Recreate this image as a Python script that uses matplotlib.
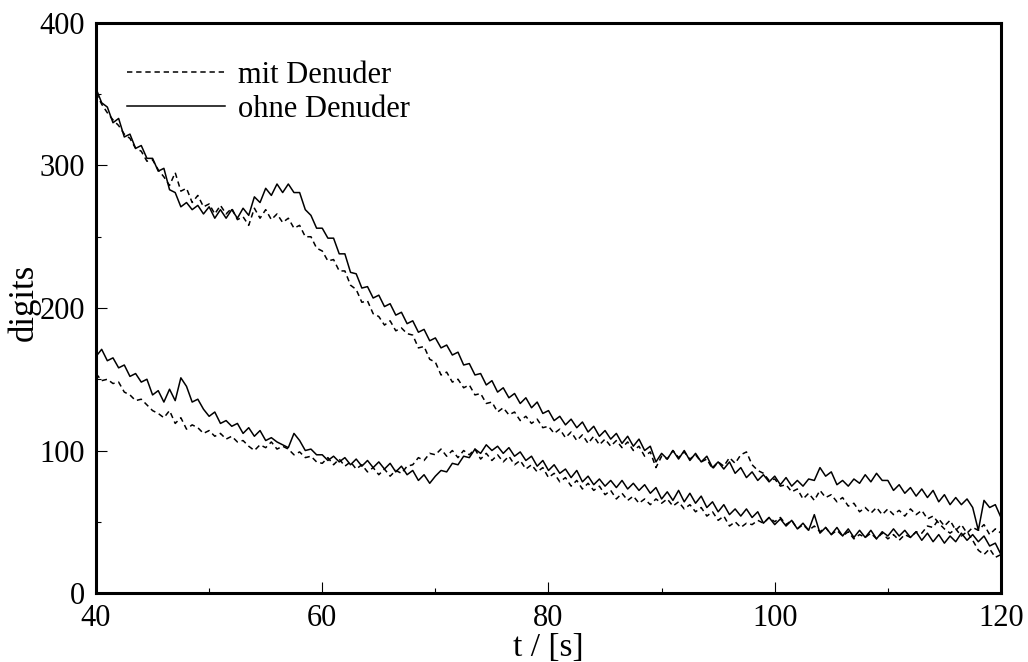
import numpy as np
import matplotlib
matplotlib.use('Agg')
import matplotlib.pyplot as plt
from matplotlib.ticker import MultipleLocator

# Zeitachse: Messwerte alle 0,5 s von 40 bis 120 s
t = np.arange(40, 120.25, 0.5)

# obere Kurve ohne Denuder (digits)
ohne_1 = [
    354, 344, 341, 330, 333, 320, 322, 312, 314, 305,
    305, 296, 298, 283, 281, 271, 274, 269, 272, 266,
    271, 263, 269, 263, 269, 263, 270, 265, 278, 274,
    284, 279, 287, 281, 287, 281, 281, 269, 265, 256,
    256, 249, 249, 238, 238, 225, 224, 214, 215, 207,
    209, 201, 203, 195, 197, 189, 191, 183, 185, 177,
    179, 172, 174, 167, 169, 160, 161, 153, 154, 146,
    149, 141, 144, 137, 140, 133, 137, 130, 134, 126,
    128, 121, 124, 118, 122, 116, 120, 113, 117, 110,
    114, 108, 112, 105, 110, 103, 108, 100, 103, 92,
    98, 94, 100, 94, 100, 93, 98, 92, 96, 88,
    92, 87, 92, 84, 88, 81, 85, 79, 83, 78,
    82, 76, 81, 75, 79, 75, 80, 79, 88, 82,
    85, 76, 79, 75, 80, 77, 83, 78, 84, 79,
    79, 72, 76, 70, 74, 68, 73, 67, 72, 64,
    69, 62, 67, 62, 66, 60, 44, 65, 60, 62,
    53,
]

# obere Kurve mit Denuder
mit_1 = [
    351, 343, 337, 332, 328, 322, 319, 312, 310, 303,
    304, 297, 292, 286, 295, 282, 284, 274, 279, 271,
    273, 266, 272, 266, 270, 262, 264, 258, 270, 263,
    269, 262, 266, 260, 263, 256, 258, 250, 250, 242,
    240, 233, 234, 226, 226, 216, 213, 204, 205, 196,
    194, 188, 191, 184, 186, 182, 181, 172, 173, 164,
    162, 153, 155, 148, 150, 144, 146, 139, 140, 133,
    134, 127, 130, 125, 127, 121, 124, 119, 122, 116,
    117, 112, 115, 109, 113, 107, 111, 105, 110, 104,
    108, 103, 107, 102, 106, 100, 103, 96, 99, 88,
    96, 94, 100, 95, 99, 94, 97, 92, 94, 87,
    92, 89, 95, 91, 97, 99, 90, 86, 84, 79,
    80, 75, 76, 71, 73, 66, 70, 65, 72, 67,
    69, 64, 67, 61, 63, 57, 60, 56, 60, 55,
    59, 55, 58, 54, 59, 55, 58, 52, 54, 49,
    45, 42, 45, 40, 43, 37, 30, 27, 31, 25,
    27,
]

# untere Kurve ohne Denuder
ohne_2 = [
    166, 171, 163, 165, 158, 160, 152, 154, 148, 150,
    139, 142, 134, 143, 135, 151, 145, 134, 136, 129,
    124, 127, 119, 121, 117, 119, 112, 116, 110, 114,
    107, 109, 106, 104, 102, 112, 107, 100, 101, 97,
    97, 93, 96, 92, 95, 90, 94, 89, 93, 88,
    92, 87, 91, 85, 89, 83, 86, 79, 83, 77,
    82, 86, 85, 91, 90, 96, 95, 101, 98, 104,
    100, 103, 98, 102, 96, 99, 93, 96, 89, 93,
    86, 90, 84, 87, 81, 86, 78, 82, 76, 80,
    75, 79, 74, 79, 73, 77, 72, 76, 70, 74,
    66, 71, 65, 72, 64, 70, 63, 68, 60, 64,
    57, 62, 55, 59, 54, 59, 53, 57, 49, 53,
    48, 52, 47, 51, 45, 49, 44, 55, 42, 46,
    41, 46, 40, 45, 39, 44, 39, 44, 38, 43,
    40, 45, 40, 44, 39, 43, 37, 42, 36, 41,
    35, 40, 36, 42, 37, 41, 36, 40, 33, 35,
    27,
]

# untere Kurve mit Denuder
mit_2 = [
    154, 149, 150, 147, 148, 141, 139, 135, 136, 132,
    128, 126, 123, 128, 119, 123, 115, 118, 116, 112,
    114, 110, 112, 108, 110, 106, 107, 103, 100, 104,
    102, 106, 101, 103, 101, 97, 99, 95, 96, 92,
    91, 95, 90, 94, 89, 92, 87, 90, 85, 88,
    83, 87, 82, 86, 84, 89, 90, 95, 93, 98,
    97, 101, 96, 100, 95, 100, 97, 101, 94, 98,
    93, 97, 92, 96, 90, 93, 87, 90, 85, 88,
    81, 84, 78, 81, 75, 79, 73, 77, 72, 75,
    69, 72, 66, 70, 65, 68, 63, 66, 62, 66,
    63, 66, 61, 64, 59, 62, 57, 60, 54, 57,
    51, 54, 47, 50, 46, 49, 48, 51, 49, 53,
    50, 53, 48, 51, 45, 48, 44, 47, 43, 46,
    41, 44, 40, 43, 38, 41, 39, 42, 38, 42,
    38, 41, 37, 41, 39, 43, 42, 47, 46, 52,
    47, 51, 44, 48, 42, 46, 44, 48, 41, 45,
    42,
]

legend_labels = ['mit Denuder', 'ohne Denuder']

plt.rcParams['font.family'] = ['Liberation Serif', 'DejaVu Serif']

fig = plt.figure(figsize=(10.28, 6.62), dpi=100)
ax = fig.add_axes([0.0934, 0.1042, 0.8803, 0.8611])

dash = (0, (3.5, 2.5))  # kurze Striche wie im Plotter
ax.plot(t, mit_1, color='black', lw=1.1, ls=dash, label=legend_labels[0])
ax.plot(t, ohne_1, color='black', lw=1.1, label=legend_labels[1])
ax.plot(t, mit_2, color='black', lw=1.1, ls=dash)
ax.plot(t, ohne_2, color='black', lw=1.1)

ax.set_xlim(40, 120)
ax.set_ylim(0, 400)
ax.xaxis.set_major_locator(MultipleLocator(20))
ax.xaxis.set_minor_locator(MultipleLocator(10))
ax.yaxis.set_major_locator(MultipleLocator(100))
ax.yaxis.set_minor_locator(MultipleLocator(50))
ax.tick_params(which='both', direction='in', width=0.8, labelsize=22, pad=8)
ax.tick_params(which='major', length=8)
ax.tick_params(which='minor', length=3.5)
for s in ax.spines.values():
    s.set_linewidth(2.2)

ax.set_xlabel('t / [s]', fontsize=24)
ax.set_ylabel('digits', fontsize=25)
ax.xaxis.set_label_coords(0.5, -0.069)
ax.yaxis.set_label_coords(-0.061, 0.51)

ax.legend(loc='upper left', bbox_to_anchor=(0.034, 0.934), frameon=False, fontsize=22,
          handlelength=3.2, handletextpad=0.45, labelspacing=0.18, borderpad=0, borderaxespad=0)

fig.savefig('out.png', dpi=100)
